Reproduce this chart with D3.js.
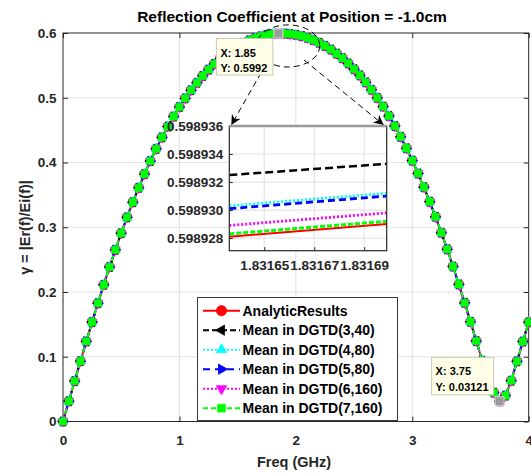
<!DOCTYPE html>
<html><head><meta charset="utf-8">
<script src="https://cdn.jsdelivr.net/npm/d3@7"></script>
<style>
body{margin:0;background:#fff;}
svg text{font-family:"Liberation Sans",Arial,Helvetica,sans-serif;font-weight:bold;}
</style></head><body>
<svg id="c" width="531" height="475"></svg>
<script>
// ---------------- data ----------------
const freqGHz = [0,0.05,0.1,0.15,0.2,0.25,0.3,0.35,0.4,0.45,0.5,0.55,0.6,0.65,0.7,0.75,0.8,0.85,0.9,0.95,
 1,1.05,1.1,1.15,1.2,1.25,1.3,1.35,1.4,1.45,1.5,1.55,1.6,1.65,1.7,1.75,1.8,1.85,1.9,1.95,
 2,2.05,2.1,2.15,2.2,2.25,2.3,2.35,2.4,2.45,2.5,2.55,2.6,2.65,2.7,2.75,2.8,2.85,2.9,2.95,
 3,3.05,3.1,3.15,3.2,3.25,3.3,3.35,3.4,3.45,3.5,3.55,3.6,3.65,3.7,3.75,3.8,3.85,3.9,3.95,4];
const analyticResults = [0,0.0313,0.0624,0.0932,0.1237,0.1535,0.1827,0.2111,0.2386,0.2652,
 0.2908,0.3153,0.3387,0.3610,0.3822,0.4022,0.4210,0.4388,0.4555,0.4710,
 0.4856,0.4991,0.5116,0.5231,0.5338,0.5435,0.5523,0.5604,0.5676,0.5740,
 0.5796,0.5845,0.5887,0.5922,0.5950,0.5971,0.5985,0.5992,0.5992,0.5985,
 0.5972,0.5952,0.5925,0.5891,0.5850,0.5801,0.5745,0.5681,0.5610,0.5530,
 0.5441,0.5345,0.5238,0.5123,0.4998,0.4864,0.4718,0.4563,0.4396,0.4219,
 0.4029,0.3830,0.3618,0.3395,0.3161,0.2915,0.2659,0.2393,0.2117,0.1832,
 0.1540,0.1242,0.0938,0.0640,0.0445,0.0312,0.0400,0.0630,0.0930,0.1235,0.1533];
// the DGTD means coincide with the analytic curve at the main plot's scale
const meanDGTD_3_40 = analyticResults;
const meanDGTD_4_80 = analyticResults;
const meanDGTD_5_80 = analyticResults;
const meanDGTD_6_160 = analyticResults;
const meanDGTD_7_160 = analyticResults;

// zoomed inset: values at the two ends of the inset window
const insetFreq = [1.831636, 1.831699];
const insetAnalytic = [0.5989281, 0.5989290];
const insetDGTD_3_40 = [0.5989325, 0.5989333];
const insetDGTD_4_80 = [0.5989303, 0.5989312];
const insetDGTD_5_80 = [0.5989301, 0.5989310];
const insetDGTD_6_160 = [0.5989289, 0.5989298];
const insetDGTD_7_160 = [0.5989283, 0.5989292];

const xTicks = [0,1,2,3,4];
const yTicks = [0,0.1,0.2,0.3,0.4,0.5,0.6];
const yTickLabels = ["0","0.1","0.2","0.3","0.4","0.5","0.6"];
const insetXTicks = [1.83165,1.83167,1.83169];
const insetXTickLabels = ["1.83165","1.83167","1.83169"];
const insetYTicks = [0.598928,0.598930,0.598932,0.598934,0.598936];
const insetYTickLabels = ["0.598928","0.598930","0.598932","0.598934","0.598936"];

const seriesNames = ["AnalyticResults","Mean in DGTD(3,40)","Mean in DGTD(4,80)","Mean in DGTD(5,80)","Mean in DGTD(6,160)","Mean in DGTD(7,160)"];
const mainValues = [analyticResults, meanDGTD_3_40, meanDGTD_4_80, meanDGTD_5_80, meanDGTD_6_160, meanDGTD_7_160];
const insetValues = [insetAnalytic, insetDGTD_3_40, insetDGTD_4_80, insetDGTD_5_80, insetDGTD_6_160, insetDGTD_7_160];

const tip1 = {x:1.85, y:0.5992, label:["X: 1.85","Y: 0.5992"]};
const tip2 = {x:3.75, y:0.03121, label:["X: 3.75","Y: 0.03121"]};

// ---------------- styles ----------------
const styles = [
 {color:"#ff0000", dash:null,   idash:null,  sym:"circle", rot:0},
 {color:"#000000", dash:"6,3",  idash:"8,4", sym:"tri", rot:-90},
 {color:"#00ffff", dash:"2,2",  idash:"2,2", sym:"tri", rot:0},
 {color:"#0000ff", dash:"7,5",  idash:"7,4", sym:"tri", rot:90},
 {color:"#ff00ff", dash:"2,2",  idash:"2,2", sym:"tri", rot:180},
 {color:"#00ff00", dash:"5,3",  idash:"5,2", sym:"square", rot:0}
];
function symPath(s, big){
  const k = big ? 1.15 : 1;
  if(s.sym==="circle") return d3.symbol(d3.symbolCircle, 72*k)();
  if(s.sym==="square") return d3.symbol(d3.symbolSquare, 52*k)();
  return d3.symbol(d3.symbolTriangle, 40*k)();
}

const svg = d3.select("#c");
svg.append("rect").attr("width",531).attr("height",475).attr("fill","#fff");
const L = {left:63, right:528.7, top:33, bottom:421.5};
const x = d3.scaleLinear().domain([0,4]).range([L.left,L.right]);
const y = d3.scaleLinear().domain([0,0.6]).range([L.bottom,L.top]);
const AX = "#262626";

// grid
svg.append("g").selectAll("line").data(xTicks.slice(1,-1)).join("line")
  .attr("x1",d=>x(d)).attr("x2",d=>x(d)).attr("y1",L.top).attr("y2",L.bottom)
  .attr("stroke","#e4e4e4").attr("stroke-width",1.2);
svg.append("g").selectAll("line").data(yTicks.slice(1,-1)).join("line")
  .attr("y1",d=>y(d)).attr("y2",d=>y(d)).attr("x1",L.left).attr("x2",L.right)
  .attr("stroke","#e4e4e4").attr("stroke-width",1.2);

function styleAxis(g, fs){
  g.select(".domain").remove();
  g.selectAll(".tick line").attr("stroke",AX);
  g.selectAll(".tick text").attr("fill",AX).style("font-size",fs+"px").style("font-family","Liberation Sans, Arial, sans-serif").style("font-weight","bold");
}
svg.append("g").attr("transform",`translate(0,${L.bottom})`)
  .call(d3.axisBottom(x).tickValues(xTicks).tickFormat(d3.format("d")).tickSizeInner(-5).tickSizeOuter(0).tickPadding(13.5))
  .call(g=>styleAxis(g,13.5));
svg.append("g").attr("transform",`translate(${L.left},0)`)
  .call(d3.axisLeft(y).tickValues(yTicks).tickFormat((d,i)=>yTickLabels[i]).tickSizeInner(-5).tickSizeOuter(0).tickPadding(6.5))
  .call(g=>styleAxis(g,13.5));
svg.append("g").attr("transform",`translate(0,${L.top})`)
  .call(d3.axisTop(x).tickValues(xTicks).tickFormat("").tickSizeInner(-5).tickSizeOuter(0))
  .call(g=>styleAxis(g,13.5));
svg.append("g").attr("transform",`translate(${L.right},0)`)
  .call(d3.axisRight(y).tickValues(yTicks).tickFormat("").tickSizeInner(-5).tickSizeOuter(0))
  .call(g=>styleAxis(g,13.5));
svg.append("rect").attr("x",L.left).attr("y",L.top).attr("width",L.right-L.left).attr("height",L.bottom-L.top)
  .attr("fill","none").attr("stroke",AX).attr("stroke-width",1);

// series
const line = d3.line().x((d,i)=>x(freqGHz[i])).y(d=>y(d));
mainValues.forEach((vals,si)=>{
  const s = styles[si];
  svg.append("path").datum(vals).attr("d",line).attr("fill","none")
    .attr("stroke",s.color).attr("stroke-width",2).attr("stroke-dasharray",s.dash);
  svg.append("g").selectAll("path").data(vals).join("path")
    .attr("d",symPath(s))
    .attr("transform",(d,i)=>`translate(${x(freqGHz[i])},${y(d)}) rotate(${s.rot})`)
    .attr("fill",s.color).attr("stroke",s.color).attr("stroke-width",0.6);
});

// title & labels
svg.append("text").attr("x",292).attr("y",22).attr("text-anchor","middle")
  .style("font-size","15.5px").attr("fill","#000").text("Reflection Coefficient at Position = -1.0cm");
svg.append("text").attr("x",294).attr("y",467).attr("text-anchor","middle")
  .style("font-size","14.5px").attr("fill",AX).text("Freq (GHz)");
svg.append("text").attr("transform","translate(30,227.5) rotate(-90)").attr("text-anchor","middle")
  .style("font-size","14.5px").attr("fill",AX).text("γ = |Er(f)/Ei(f)|");

// inset geometry
const I = {left:229.3, right:386.7, top:126, bottom:250.7};

// zoom annotation: ellipse + arrows (in data coordinates)
const zoomEllipse = {cx:1.933, cy:0.580, rx:0.272, ry:0.0325};
const defs = svg.append("defs");
defs.append("marker").attr("id","ah").attr("viewBox","-10 -6 12 12").attr("refX",0).attr("refY",0)
  .attr("markerWidth",12).attr("markerHeight",12).attr("markerUnits","userSpaceOnUse").attr("orient","auto")
  .append("path").attr("d","M-10,-5 L0,0 L-10,5 L-7,0 Z").attr("fill","#000");
svg.append("ellipse").attr("cx",x(zoomEllipse.cx)).attr("cy",y(zoomEllipse.cy))
  .attr("rx",x(zoomEllipse.rx)-x(0)).attr("ry",y(0)-y(zoomEllipse.ry))
  .attr("fill","none").attr("stroke","#000").attr("stroke-width",1).attr("stroke-dasharray","6,4");
const arrowStarts = [{f:1.744,v:0.552},{f:2.07,v:0.5583}];
const arrowEnds = [[I.left+2,I.top-1],[I.right-3,I.top-1]];
arrowStarts.forEach((a,i)=>{
  svg.append("line").attr("x1",x(a.f)).attr("y1",y(a.v)).attr("x2",arrowEnds[i][0]).attr("y2",arrowEnds[i][1])
    .attr("stroke","#000").attr("stroke-width",1).attr("stroke-dasharray","6,4").attr("marker-end","url(#ah)");
});

// inset
const ix = d3.scaleLinear().domain(insetFreq).range([I.left,I.right]);
const iy = d3.scaleLinear().domain([0.5989271,0.598936]).range([I.bottom,I.top]);
const ig = svg.append("g");
ig.append("rect").attr("x",I.left).attr("y",I.top).attr("width",I.right-I.left).attr("height",I.bottom-I.top).attr("fill","#fff");
defs.append("clipPath").attr("id","ic").append("rect").attr("x",I.left).attr("y",I.top).attr("width",I.right-I.left).attr("height",I.bottom-I.top);
ig.append("g").selectAll("line").data(insetXTicks).join("line")
  .attr("x1",d=>ix(d)).attr("x2",d=>ix(d)).attr("y1",I.top).attr("y2",I.bottom).attr("stroke","#e4e4e4").attr("stroke-width",1.2);
ig.append("g").selectAll("line").data(insetYTicks.slice(0,-1)).join("line")
  .attr("y1",d=>iy(d)).attr("y2",d=>iy(d)).attr("x1",I.left).attr("x2",I.right).attr("stroke","#e4e4e4").attr("stroke-width",1.2);
const iline = d3.line().x((d,i)=>ix(insetFreq[i])).y(d=>iy(d));
const iwidths = [2,2.5,2.8,2.8,2.8,3];
const lg = ig.append("g").attr("clip-path","url(#ic)");
insetValues.forEach((vals,si)=>{
  const s = styles[si];
  lg.append("path").datum(vals).attr("d",iline).attr("fill","none")
    .attr("stroke",s.color).attr("stroke-width",iwidths[si]).attr("stroke-dasharray",s.idash);
});
ig.append("g").attr("transform",`translate(0,${I.bottom})`)
  .call(d3.axisBottom(ix).tickValues(insetXTicks).tickFormat((d,i)=>insetXTickLabels[i]).tickSizeInner(-3.5).tickSizeOuter(0).tickPadding(9.5))
  .call(g=>styleAxis(g,13.5));
ig.append("g").attr("transform",`translate(${I.left},0)`)
  .call(d3.axisLeft(iy).tickValues(insetYTicks).tickFormat((d,i)=>insetYTickLabels[i]).tickSizeInner(-3.5).tickSizeOuter(0).tickPadding(6))
  .call(g=>styleAxis(g,13.5));
ig.append("rect").attr("x",I.left).attr("y",I.top).attr("width",I.right-I.left).attr("height",I.bottom-I.top)
  .attr("fill","none").attr("stroke",AX).attr("stroke-width",1.2);
ig.append("line").attr("x1",I.left).attr("x2",I.right).attr("y1",I.top).attr("y2",I.top)
  .attr("stroke","#9a9a9a").attr("stroke-width",2.5);

// legend
const LG = {x:197.5, y:297.5, w:200, h:123, row0:310.7, dy:19.5};
const leg = svg.append("g");
leg.append("rect").attr("x",LG.x).attr("y",LG.y).attr("width",LG.w).attr("height",LG.h)
  .attr("fill","#fff").attr("stroke","#3a3a3a").attr("stroke-width",1);
seriesNames.forEach((name,i)=>{
  const s = styles[i], yy = LG.row0 + i*LG.dy;
  leg.append("line").attr("x1",203).attr("x2",240).attr("y1",yy).attr("y2",yy)
    .attr("stroke",s.color).attr("stroke-width",2).attr("stroke-dasharray",s.dash);
  leg.append("path").attr("d",symPath(s,true)).attr("transform",`translate(221.5,${yy}) rotate(${s.rot})`)
    .attr("fill",s.color).attr("stroke",s.color).attr("stroke-width",0.8);
  leg.append("text").attr("x",242.5).attr("y",yy+5).style("font-size","14px").attr("fill","#000").text(name);
});

// data tips
function dataTip(t, dx, dy, w, h){
  const px = x(t.x), py = y(t.y);
  svg.append("rect").attr("x",px-4.5).attr("y",py-4.5).attr("width",9).attr("height",9)
    .attr("fill","#9b9b9b").attr("stroke","#d8d8d8").attr("stroke-width",1);
  const bx = px+dx, by = py+dy;
  svg.append("rect").attr("x",bx).attr("y",by).attr("width",w).attr("height",h)
    .attr("fill","#ffffe8").attr("stroke","#c9c9b8").attr("stroke-width",1);
  t.label.forEach((s,i)=>{
    svg.append("text").attr("x",bx+4).attr("y",by+18+i*15.5).style("font-size","11px").attr("fill","#000").text(s);
  });
}
dataTip(tip1, -62, 5, 56.5, 36.5);
dataTip(tip2, -68, -44, 62, 37.5);
</script>
</body></html>
